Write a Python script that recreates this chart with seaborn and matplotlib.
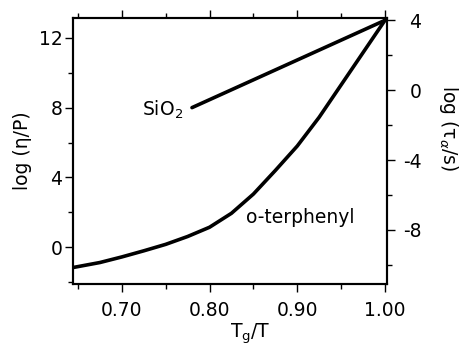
import matplotlib
matplotlib.use("Agg")
import matplotlib.pyplot as plt
import seaborn as sns
from matplotlib.ticker import FixedLocator

# o-terphenyl viscosity curve
ot_x = [0.645, 0.675, 0.70, 0.725, 0.75, 0.775, 0.80, 0.825, 0.85, 0.875, 0.90, 0.925, 0.95, 0.975, 1.00]
ot_y = [-1.15, -0.87, -0.55, -0.20, 0.17, 0.62, 1.15, 1.95, 3.05, 4.40, 5.80, 7.45, 9.30, 11.15, 13.0]

# SiO2 (Arrhenius, straight line)
si_x = [0.78, 1.00]
si_y = [8.0, 13.0]

left_major = [0, 4, 8, 12]
left_minor = [-2, 2, 6, 10]
right_major = [4, 0, -4, -8]
right_minor = [2, -2, -6, -10]
x_major = [0.70, 0.80, 0.90, 1.00]
x_minor = [0.65, 0.75, 0.85, 0.95]
offset = 9  # log(eta/P) - log(tau/s)

sns.set_style("white")
plt.rcParams['font.family'] = ['DejaVu Sans']
plt.rcParams['mathtext.fontset'] = 'dejavusans'
plt.rcParams['axes.unicode_minus'] = False
for key in ['text.color', 'axes.labelcolor', 'xtick.color', 'ytick.color']:
    plt.rcParams[key] = 'black'

fs = 13.5

fig = plt.figure(figsize=(4.59, 3.45), dpi=100)
ax = fig.add_axes([0.1584, 0.1768, 0.8425 - 0.1584, 0.9487 - 0.1768])

sns.lineplot(x=ot_x, y=ot_y, ax=ax, color='black', linewidth=2.6)
sns.lineplot(x=si_x, y=si_y, ax=ax, color='black', linewidth=2.6)

ax.set_xlim(0.644, 1.002)
ax.set_ylim(-2.1, 13.15)

for s in ax.spines.values():
    s.set_linewidth(1.5)
    s.set_color('black')

ax.xaxis.set_major_locator(FixedLocator(x_major))
ax.xaxis.set_minor_locator(FixedLocator(x_minor))
ax.set_xticklabels([f"{v:.2f}" for v in x_major])
ax.yaxis.set_major_locator(FixedLocator(left_major))
ax.yaxis.set_minor_locator(FixedLocator(left_minor))
ax.set_yticklabels([str(v) for v in left_major])

ax.tick_params(which='both', direction='out', top=True, bottom=True, left=True,
               right=False, color='black', width=1.0, labelsize=fs)
ax.tick_params(which='major', length=6)
ax.tick_params(which='minor', length=3.5)
ax.tick_params(axis='x', which='major', pad=6)
ax.tick_params(axis='y', which='major', pad=1.5)

ax2 = ax.twinx()
ax2.set_ylim(ax.get_ylim()[0] - offset, ax.get_ylim()[1] - offset)
ax2.yaxis.set_major_locator(FixedLocator(right_major))
ax2.yaxis.set_minor_locator(FixedLocator(right_minor))
ax2.set_yticklabels([str(v) for v in right_major], ha='right')
ax2.tick_params(which='both', direction='out', right=True, color='black', width=1.0, labelsize=fs)
ax2.tick_params(which='major', length=6, pad=19)
ax2.tick_params(which='minor', length=3.5)
for s in ax2.spines.values():
    s.set_linewidth(1.5)
    s.set_color('black')

ax.set_xlabel(r"T$_\mathrm{g}$/T", fontsize=fs)
ax.xaxis.set_label_coords(0.565, -0.14)
ax.set_ylabel("log (η/P)", fontsize=fs, va='center')
ax.yaxis.set_label_coords(-0.161, 0.5)
ax2.set_ylabel(r"log (τ$_\alpha$/s)", fontsize=fs, rotation=-90, va='center')
ax2.yaxis.set_label_coords(1.198, 0.586)

ax.text(0.770, 7.85, r"SiO$_2$", fontsize=fs, ha='right', va='center')
ax.text(0.842, 1.7, "o-terphenyl", fontsize=fs, ha='left', va='center')

fig.savefig("out.png", dpi=100)
